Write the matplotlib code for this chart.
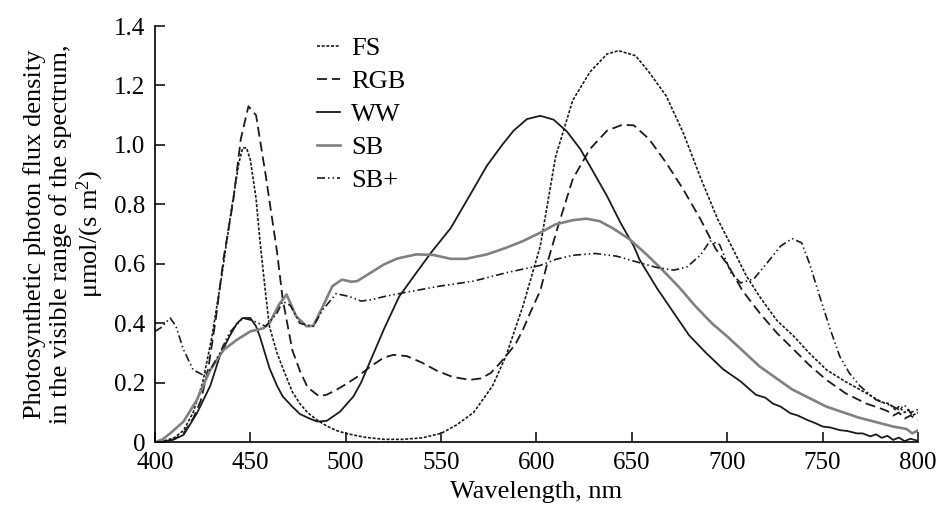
import matplotlib
matplotlib.use("Agg")
import matplotlib.pyplot as plt

plt.rcParams['font.family'] = ['Liberation Serif', 'DejaVu Serif']
plt.rcParams['mathtext.fontset'] = 'custom'
plt.rcParams['mathtext.rm'] = 'Liberation Serif'
plt.rcParams['mathtext.it'] = 'Liberation Serif:italic'

# ---- data ----
fs_wl = [400, 405, 410, 415, 420, 425, 430, 435, 440, 444, 446, 448, 450, 453, 455, 458, 460, 464,
         467, 472, 476, 480, 485, 490, 495, 500, 510, 520, 530, 540, 550, 558, 567, 577, 584, 593,
         602, 610, 619, 628, 637, 643, 652, 659, 668, 677, 686, 695, 703, 710, 717, 726, 735, 743,
         752, 762, 773, 781, 785, 788, 790, 793, 795, 797, 800]
fs_val = [0.0, 0.005, 0.015, 0.04, 0.1, 0.2, 0.36, 0.56, 0.78, 0.94, 0.99, 0.99, 0.95, 0.82, 0.68,
          0.5, 0.39, 0.30, 0.25, 0.17, 0.13, 0.10, 0.075, 0.055, 0.04, 0.03, 0.017, 0.01, 0.01,
          0.015, 0.03, 0.058, 0.10, 0.19, 0.29, 0.46, 0.66, 0.96, 1.15, 1.245, 1.306, 1.317, 1.30,
          1.245, 1.165, 1.04, 0.89, 0.75, 0.65, 0.56, 0.49, 0.41, 0.356, 0.30, 0.244, 0.204, 0.165,
          0.135, 0.13, 0.11, 0.12, 0.10, 0.11, 0.09, 0.10]

rgb_wl = [400, 405, 410, 415, 420, 424, 428, 432, 436, 441, 445, 449, 453, 458, 464, 467, 472, 476,
          480, 486, 490, 495, 500, 506, 513, 520, 525, 532, 540, 548, 556, 565, 571, 576, 580, 584,
          589, 593, 597, 602, 606, 611, 619, 628, 637, 645, 651, 659, 668, 677, 686, 694, 700, 708,
          717, 726, 735, 743, 752, 762, 773, 780, 784, 787, 790, 793, 796, 800]
rgb_val = [0.0, 0.003, 0.01, 0.03, 0.08, 0.14, 0.25, 0.42, 0.62, 0.81, 1.02, 1.13, 1.10, 0.90, 0.64,
           0.48, 0.31, 0.24, 0.185, 0.155, 0.16, 0.176, 0.195, 0.22, 0.255, 0.285, 0.294, 0.29,
           0.268, 0.24, 0.22, 0.21, 0.215, 0.233, 0.26, 0.29, 0.33, 0.38, 0.44, 0.51, 0.61, 0.72,
           0.885, 0.986, 1.048, 1.068, 1.066, 1.02, 0.94, 0.85, 0.75, 0.65, 0.60, 0.51, 0.435,
           0.368, 0.311, 0.26, 0.21, 0.165, 0.13, 0.115, 0.105, 0.09, 0.10, 0.08, 0.09, 0.075]

ww_wl = [400, 405, 410, 415, 422, 429, 434, 439, 443, 446, 450, 453, 455, 460, 464, 467, 472, 476,
         481, 485, 490, 497, 504, 508, 512, 516, 520, 528, 537, 545, 555, 565, 574, 582, 588, 595,
         602, 609, 616, 623, 630, 637, 644, 651, 654, 663, 672, 680, 689, 698, 707, 715, 720, 724,
         728, 733, 737, 742, 746, 750, 754, 759, 763, 768, 771, 775, 778, 781, 784, 787, 790, 793,
         796, 800]
ww_val = [0.0, 0.003, 0.01, 0.025, 0.098, 0.19, 0.29, 0.356, 0.40, 0.418, 0.418, 0.39, 0.356, 0.25,
          0.19, 0.154, 0.12, 0.095, 0.08, 0.07, 0.072, 0.103, 0.154, 0.2, 0.26, 0.32, 0.38, 0.49,
          0.57, 0.64, 0.72, 0.83, 0.93, 1.0, 1.048, 1.087, 1.098, 1.085, 1.045, 0.986, 0.907,
          0.828, 0.739, 0.66, 0.615, 0.52, 0.435, 0.36, 0.30, 0.245, 0.205, 0.16, 0.15, 0.13, 0.12,
          0.098, 0.09, 0.075, 0.065, 0.053, 0.05, 0.041, 0.038, 0.03, 0.03, 0.02, 0.027, 0.015,
          0.022, 0.008, 0.016, 0.004, 0.012, 0.005]

sb_wl = [400, 404, 408, 415, 422, 429, 436, 443, 450, 457, 460, 465, 469, 474, 479.5, 483, 488,
         493, 498, 503, 506, 513, 520, 527, 537, 546, 555, 563, 574, 584, 593, 602, 610, 619, 626,
         633, 640, 649, 658, 666, 675, 683, 692, 700, 717, 734, 752, 769, 787, 794, 797, 800]
sb_val = [0.0, 0.01, 0.03, 0.07, 0.143, 0.244, 0.311, 0.345, 0.373, 0.384, 0.40, 0.463, 0.497,
          0.424, 0.39, 0.392, 0.457, 0.525, 0.547, 0.54, 0.542, 0.57, 0.598, 0.618, 0.632, 0.63,
          0.617, 0.617, 0.632, 0.654, 0.677, 0.705, 0.733, 0.747, 0.752, 0.744, 0.72, 0.682, 0.63,
          0.58, 0.52, 0.46, 0.40, 0.356, 0.255, 0.178, 0.12, 0.083, 0.053, 0.045, 0.03, 0.04]

sbp_wl = [400, 403, 408, 411, 415, 420, 425, 429, 434, 439, 446, 451, 458, 464, 467, 471, 476, 483,
          488, 495, 502, 508, 514, 520, 532, 549, 567, 584, 602, 610, 619, 631, 642, 654, 663, 672,
          679, 686, 691, 696, 702, 707, 714, 721, 728, 734, 739, 743, 748.5, 754, 759, 764, 769.5,
          778, 787, 790, 793, 796, 800]
sbp_val = [0.373, 0.385, 0.418, 0.39, 0.311, 0.244, 0.227, 0.244, 0.30, 0.368, 0.418, 0.41, 0.39,
           0.435, 0.474, 0.46, 0.40, 0.39, 0.446, 0.50, 0.49, 0.475, 0.48, 0.49, 0.505, 0.525,
           0.542, 0.57, 0.595, 0.615, 0.629, 0.635, 0.626, 0.604, 0.588, 0.579, 0.59, 0.63, 0.677,
           0.665, 0.57, 0.536, 0.55, 0.604, 0.66, 0.685, 0.671, 0.604, 0.49, 0.38, 0.289, 0.233,
           0.19, 0.143, 0.12, 0.11, 0.125, 0.10, 0.11]

labels = ["FS", "RGB", "WW", "SB", "SB+"]
x_ticks = [400, 450, 500, 550, 600, 650, 700, 750, 800]
y_ticks = [0, 0.2, 0.4, 0.6, 0.8, 1.0, 1.2, 1.4]
y_ticklabels = ["0", "0.2", "0.4", "0.6", "0.8", "1.0", "1.2", "1.4"]

# ---- figure ----
fig = plt.figure(figsize=(9.42, 5.08), dpi=100)
ax = fig.add_axes([0.1645, 0.1293, 0.81, 0.8195])

ax.plot(fs_wl, fs_val, color='#1a1a1a', lw=1.2, ls=(0, (1.8, 1.0)), label=labels[0])
ax.plot(rgb_wl, rgb_val, color='#1a1a1a', lw=1.3, ls=(0, (5.5, 2.8)), label=labels[1])
ax.plot(ww_wl, ww_val, color='#1a1a1a', lw=1.3, ls='-', label=labels[2])
ax.plot(sb_wl, sb_val, color='#808080', lw=1.9, ls='-', label=labels[3])
ax.plot(sbp_wl, sbp_val, color='#1a1a1a', lw=1.2,
        ls=(0, (4.8, 1.8, 0.9, 1.8, 0.9, 1.8)), label=labels[4])

ax.set_xlim(400, 800)
ax.set_ylim(0, 1.4)
ax.set_xticks(x_ticks)
ax.set_yticks(y_ticks)
ax.set_yticklabels(y_ticklabels)
for s in ['top', 'right']:
    ax.spines[s].set_visible(False)
for s in ['left', 'bottom']:
    ax.spines[s].set_linewidth(1.2)
ax.tick_params(direction='in', length=7, width=1.1, labelsize=18, pad=7)

ax.set_xlabel("Wavelength, nm", fontsize=19, labelpad=5)
ax.set_ylabel("Photosynthetic photon flux density\nin the visible range of the spectrum,\nμmol/(s m$^2$)",
              fontsize=19, linespacing=1.12, labelpad=6)

ax.legend(loc='upper left', bbox_to_anchor=(0.212, 0.975), frameon=False, fontsize=19,
          handlelength=0.9, handletextpad=0.4, labelspacing=0.36, borderpad=0, borderaxespad=0)

fig.savefig("out.png", dpi=100)
